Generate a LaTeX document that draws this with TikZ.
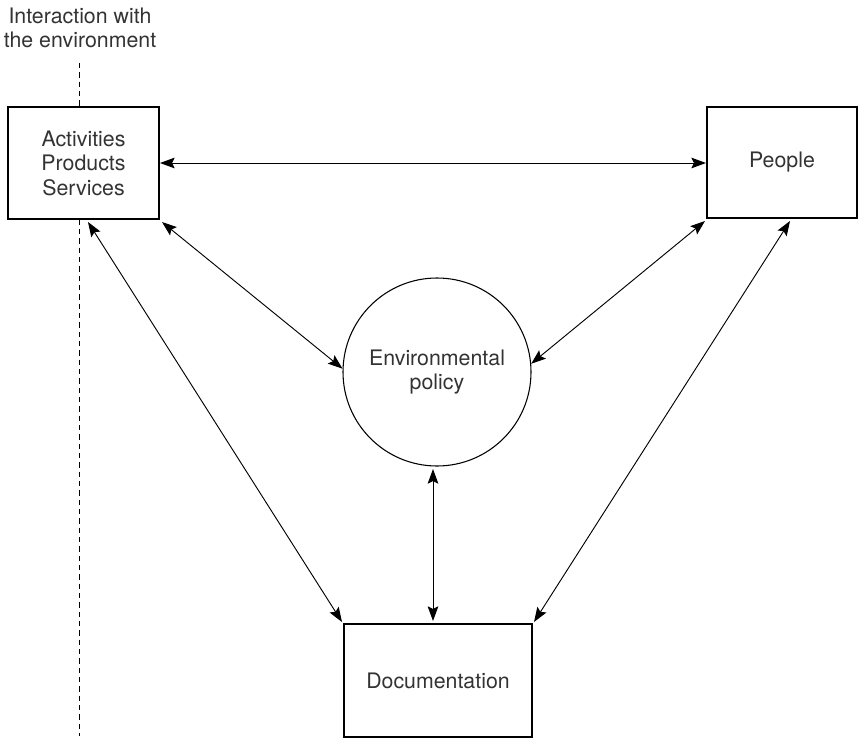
\documentclass[tikz,border=0pt]{standalone}
\usepackage{fontspec}
\setmainfont{TeX Gyre Heros}
\usetikzlibrary{arrows.meta}
\begin{document}
\begin{tikzpicture}[x=0.75pt,y=-0.75pt,
  every node/.style={font=\fontsize{16}{18.4}\selectfont, text=black!80},
  box/.style={draw, line width=0.8pt, inner sep=0pt, align=center},
  tip/.style={Stealth[length=11pt,width=8pt,inset=2pt]},
  link/.style={{Stealth[length=11pt,width=8pt,inset=2pt]}-{Stealth[length=11pt,width=8pt,inset=2pt]}, line width=0.7pt},
  border/.style={line width=0.6pt, dash pattern=on 4pt off 3pt}]
  \useasboundingbox (0,0) rectangle (859,738);

  % boxes and the central policy circle
  \node[box, minimum width=151*0.75pt, minimum height=112*0.75pt] (aps) at (83.5,163) {Activities\\Products\\Services};
  \node[box, minimum width=150*0.75pt, minimum height=111*0.75pt] (people) at (782,162.5) {People};
  \node[draw, circle, line width=0.8pt, minimum size=188*0.75pt, inner sep=0pt, align=center] (policy) at (437,372) {Environmental\\policy};
  \node[box, minimum width=188*0.75pt, minimum height=113*0.75pt] (docu) at (438,680.5) {Documentation};

  \coordinate (apsE) at (160,163);
  \coordinate (apsSE) at (162,222);
  \coordinate (apsS) at (88,222);
  \coordinate (peoW) at (706,163);
  \coordinate (peoSW) at (705,221);
  \coordinate (peoS) at (790,221);
  \coordinate (docNW) at (342,622);
  \coordinate (docN) at (433,621);
  \coordinate (docNE) at (534,622);
  \coordinate (polS) at (433,469);

  % boundary of interaction with the environment
  \node[align=center] (envlabel) at (80,28) {Interaction with\\the environment};
  \coordinate (bTop) at (79,63);
  \coordinate (bBot) at (79,736);
  \draw[border] (bTop) -- (aps.north -| bTop);
  \draw[border] (aps.south -| bTop) -- (bBot);

  % relations
  \draw[link] (apsE) -- (peoW);
  \draw[link] (apsSE) -- (policy.{178});
  \draw[link] (apsS) -- (docNW);
  \draw[link] (peoSW) -- (policy.{5.5});
  \draw[link] (peoS) -- (docNE);
  \draw[link] (docN) -- (polS);
\end{tikzpicture}
\end{document}
